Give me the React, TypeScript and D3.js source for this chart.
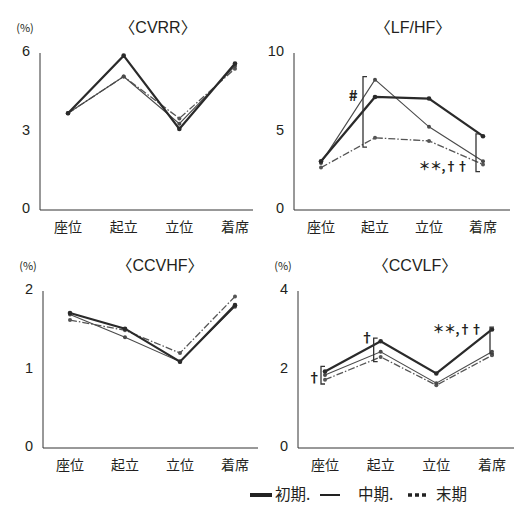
import React from "react";
import * as d3 from "d3";

const categories = ["座位", "起立", "立位", "着席"];
const seriesNames = ["初期.", "中期.", "末期"];

// CVRR (%)
const cvrrEarly = [3.7, 5.9, 3.1, 5.6];
const cvrrMid = [3.7, 5.1, 3.3, 5.5];
const cvrrLate = [3.7, 5.1, 3.5, 5.4];
const cvrrTicks = [0, 3, 6];

// LF/HF
const lfhfEarly = [3.1, 7.2, 7.1, 4.7];
const lfhfMid = [3.0, 8.3, 5.3, 3.1];
const lfhfLate = [2.7, 4.6, 4.4, 2.9];
const lfhfTicks = [0, 5, 10];

// CCVHF (%)
const ccvhfEarly = [1.72, 1.52, 1.1, 1.82];
const ccvhfMid = [1.7, 1.41, 1.1, 1.8];
const ccvhfLate = [1.63, 1.5, 1.21, 1.93];
const ccvhfTicks = [0, 1, 2];

// CCVLF (%)
const ccvlfEarly = [1.95, 2.72, 1.9, 3.02];
const ccvlfMid = [1.86, 2.45, 1.65, 2.45];
const ccvlfLate = [1.74, 2.32, 1.6, 2.36];
const ccvlfTicks = [0, 2, 4];

// significance brackets: category index, low, high, mark
const lfhfMarks = [
  { cat: 1, lo: 4.0, hi: 8.5, label: "#", side: "left" },
  { cat: 3, lo: 2.45, hi: 4.85, label: "＊＊,††", side: "below" },
];
const ccvlfMarks = [
  { cat: 0, lo: 1.63, hi: 2.08, label: "†", side: "left" },
  { cat: 1, lo: 2.2, hi: 2.8, label: "†", side: "top" },
  { cat: 3, lo: 2.4, hi: 3.08, label: "＊＊,††", side: "topleft" },
];

const INK = "#231f20";
const FONT = "'Noto Sans CJK JP', 'Noto Sans', sans-serif";
const LATIN = "'Liberation Sans', Arial, 'Noto Sans CJK JP', sans-serif";

type Mark = { cat: number; lo: number; hi: number; label: string; side: string };

function Panel(props: {
  title: string;
  unit: boolean;
  ax: number; // y axis x
  top: number;
  bottom: number;
  right: number;
  catStart: number;
  catEnd: number;
  titleX: number;
  ticks: number[];
  data: number[][];
  marks?: Mark[];
}) {
  const { title, unit, ax, top, bottom, right, catStart, catEnd, titleX, ticks, data, marks } = props;
  const x = d3.scalePoint<string>().domain(categories).range([catStart, catEnd]);
  const y = d3.scaleLinear().domain([0, d3.max(ticks) as number]).range([bottom, top]);
  const line = d3
    .line<number>()
    .x((d, i) => x(categories[i]) as number)
    .y((d) => y(d));

  const styles = [
    { w: 2.2, c: "#2a2a2a", dash: "", r: 2.3 },
    { w: 1.1, c: "#4a4a4a", dash: "", r: 2 },
    { w: 1.3, c: "#555", dash: "7,2,1.5,2", r: 2 },
  ];

  return (
    <g>
      <text x={titleX} y={top - 26} dy="0.35em" textAnchor="middle" fontSize={16} fill={INK} fontFamily={LATIN}>
        {title}
      </text>
      {unit && (
        <text x={ax - 15} y={top - 25} dy="0.35em" textAnchor="middle" fontSize={11} fill={INK} fontFamily={FONT}>
          (%)
        </text>
      )}
      <line x1={ax} x2={ax} y1={top} y2={bottom} stroke="#333" strokeWidth={1} />
      <line x1={ax} x2={right} y1={bottom} y2={bottom} stroke="#333" strokeWidth={1} />
      {ticks.map((t) => (
        <text key={t} x={ax - 10} y={y(t) - 2} dy="0.35em" textAnchor="end" fontSize={14.5} fill={INK} fontFamily={LATIN}>
          {t}
        </text>
      ))}
      {categories.map((c) => (
        <text key={c} x={x(c)} y={bottom + 17} dy="0.35em" textAnchor="middle" fontSize={14} fill={INK} fontFamily={FONT}>
          {c}
        </text>
      ))}
      {data
        .map((s, k) => ({ s, k }))
        .reverse()
        .map(({ s, k }) => (
          <g key={k}>
            <path d={line(s) || ""} fill="none" stroke={styles[k].c} strokeWidth={styles[k].w} strokeDasharray={styles[k].dash} />
            {s.map((v, i) => (
              <circle key={i} cx={x(categories[i])} cy={y(v)} r={styles[k].r} fill={styles[k].c} />
            ))}
          </g>
        ))}
      {(marks || []).map((m, i) => {
        const px = x(categories[m.cat]) as number;
        const y1 = y(m.hi);
        const y2 = y(m.lo);
        let cx = px - 7;
        let tx = cx - 10;
        let ty = (y1 + y2) / 2;
        let anchor = "middle";
        let fs = 13;
        if (m.side === "left") {
          if (m.label === "#") {
            cx = px - 12;
            tx = cx - 10;
            ty = y1 + (y2 - y1) * 0.27;
            fs = 15;
          } else {
            cx = px - 4;
            tx = cx - 7;
            ty = y1 + (y2 - y1) * 0.6;
          }
        } else if (m.side === "top") {
          tx = cx - 7;
          ty = y1 - 1;
        } else if (m.side === "below") {
          tx = cx - 8;
          ty = y2 - 5;
          anchor = "end";
          fs = 12;
        } else if (m.side === "topleft") {
          cx = px - 2;
          tx = cx - 8;
          ty = y1 + 3;
          anchor = "end";
          fs = 12;
        }
        return (
          <g key={i}>
            <path
              d={`M${cx + 4},${y1}H${cx}V${y2}H${cx + 4}`}
              fill="none"
              stroke="#333"
              strokeWidth={1.3}
            />
            <text x={tx} y={ty} dy="0.35em" textAnchor={anchor} fontSize={fs} fontWeight="bold" fill={INK} fontFamily={FONT} letterSpacing={-0.5}>
              {m.label}
            </text>
          </g>
        );
      })}
    </g>
  );
}

export default function App() {
  return (
    <svg width={515} height={505} style={{ display: "block", position: "absolute", left: 0, top: 0, background: "#fff" }}>
      <Panel
        title="〈CVRR〉"
        unit
        ax={40}
        top={53}
        bottom={210}
        right={253}
        catStart={68}
        catEnd={235}
        titleX={158}
        ticks={cvrrTicks}
        data={[cvrrEarly, cvrrMid, cvrrLate]}
      />
      <Panel
        title="〈LF/HF〉"
        unit={false}
        ax={294}
        top={53}
        bottom={210}
        right={510}
        catStart={321}
        catEnd={483}
        titleX={413}
        ticks={lfhfTicks}
        data={[lfhfEarly, lfhfMid, lfhfLate]}
        marks={lfhfMarks}
      />
      <Panel
        title="〈CCVHF〉"
        unit
        ax={43}
        top={291}
        bottom={448}
        right={258}
        catStart={70}
        catEnd={235}
        titleX={160}
        ticks={ccvhfTicks}
        data={[ccvhfEarly, ccvhfMid, ccvhfLate]}
      />
      <Panel
        title="〈CCVLF〉"
        unit
        ax={298}
        top={291}
        bottom={448}
        right={514}
        catStart={325}
        catEnd={492}
        titleX={415}
        ticks={ccvlfTicks}
        data={[ccvlfEarly, ccvlfMid, ccvlfLate]}
        marks={ccvlfMarks}
      />
      <g fontFamily={FONT} fontSize={15.5} fill={INK}>
        <line x1={250} x2={272} y1={495} y2={495} stroke="#222" strokeWidth={4} />
        <text x={275} y={495} dy="0.35em">{seriesNames[0]}</text>
        <line x1={320} x2={340} y1={495} y2={495} stroke="#222" strokeWidth={2} />
        <text x={358} y={495} dy="0.35em">{seriesNames[1]}</text>
        <line x1={408} x2={428} y1={495} y2={495} stroke="#222" strokeWidth={3.5} strokeDasharray="4,3" />
        <text x={436} y={495} dy="0.35em">{seriesNames[2]}</text>
      </g>
    </svg>
  );
}
